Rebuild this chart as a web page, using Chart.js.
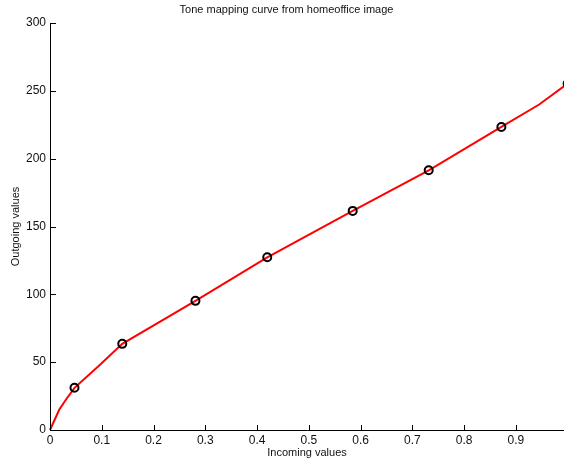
<!DOCTYPE html>
<html>
<head>
<meta charset="utf-8">
<script src="https://cdn.jsdelivr.net/npm/chart.js@4"></script>
<style>
  html, body { margin: 0; padding: 0; background: #fff; }
  #wrap { width: 564px; height: 462px; }
</style>
</head>
<body>
<div id="wrap"><canvas id="chart" width="564" height="462"></canvas></div>
<script>
const chartTitle = "Tone mapping curve from homeoffice image";
const xLabel = "Incoming values";
const yLabel = "Outgoing values";

const xTicks = [0, 0.1, 0.2, 0.3, 0.4, 0.5, 0.6, 0.7, 0.8, 0.9];
const yTicks = [0, 50, 100, 150, 200, 250, 300];

// red tone curve
const curveX = [0, 0.018, 0.031, 0.0473, 0.0956, 0.1396, 0.281, 0.4197, 0.5848, 0.7316, 0.872, 0.945, 1.0];
const curveY = [0, 15.1, 22.5, 31.1, 47.8, 63.5, 95.2, 127.3, 161.5, 191.4, 223.4, 239.9, 255.3];

// black circle markers
const markerX = [0.0473, 0.1396, 0.281, 0.4197, 0.5848, 0.7316, 0.872, 1.0];
const markerY = [31.1, 63.5, 95.2, 127.3, 161.5, 191.4, 223.4, 255.3];

const FONT = '"Liberation Sans", Arial, Helvetica, sans-serif';
const INK = '#111';

const toPoints = (xs, ys) => xs.map((x, i) => ({ x: x, y: ys[i] }));

// MATLAB style inward tick marks + title
const matlabAxes = {
  id: 'matlabAxes',
  afterDraw(chart) {
    const ctx = chart.ctx;
    const xs = chart.scales.x, ys = chart.scales.y;
    const area = chart.chartArea;
    ctx.save();
    ctx.strokeStyle = '#000';
    ctx.lineWidth = 1;
    ctx.beginPath();
    xTicks.forEach(v => {
      const px = Math.round(xs.getPixelForValue(v)) + 0.5;
      ctx.moveTo(px, Math.round(area.bottom));
      ctx.lineTo(px, Math.round(area.bottom) - 5);
    });
    yTicks.forEach(v => {
      const py = Math.round(ys.getPixelForValue(v)) + 0.5;
      ctx.moveTo(Math.round(area.left), py);
      ctx.lineTo(Math.round(area.left) + 6, py);
    });
    ctx.stroke();

    ctx.fillStyle = INK;
    ctx.font = '11px ' + FONT;
    ctx.textAlign = 'center';
    ctx.textBaseline = 'middle';
    ctx.fillText(chartTitle, 286.5, 10);
    ctx.restore();
  }
};

new Chart(document.getElementById('chart'), {
  type: 'scatter',
  data: {
    datasets: [
      {
        label: 'markers',
        data: toPoints(markerX, markerY),
        showLine: false,
        pointRadius: 4,
        pointBorderWidth: 2,
        pointBorderColor: '#000',
        pointBackgroundColor: 'rgba(0,0,0,0)',
        clip: false,
        order: 0
      },
      {
        label: 'curve',
        data: toPoints(curveX, curveY),
        showLine: true,
        borderColor: '#ff0000',
        borderWidth: 2,
        pointRadius: 0,
        tension: 0,
        clip: false,
        order: 1
      }
    ]
  },
  options: {
    responsive: false,
    animation: false,
    layout: { autoPadding: false, padding: { top: 23, left: 0, right: 0, bottom: 0 } },
    plugins: {
      legend: { display: false },
      tooltip: { enabled: false },
      title: { display: false }
    },
    scales: {
      x: {
        type: 'linear',
        position: 'bottom',
        min: 0,
        max: 0.993,
        afterBuildTicks: s => { s.ticks = xTicks.map(v => ({ value: v })); },
        afterFit: s => { s.height = 32; s.paddingLeft = 0; s.paddingRight = 0; },
        grid: { display: false, drawTicks: false },
        border: { display: true, color: '#000', width: 1 },
        ticks: {
          font: { family: FONT, size: 12 },
          color: INK,
          padding: 3,
          maxRotation: 0,
          autoSkip: false,
          callback: v => String(v)
        },
        title: {
          display: true,
          text: xLabel,
          font: { family: FONT, size: 11 },
          color: INK,
          padding: { top: 0, bottom: 2.4 }
        }
      },
      y: {
        type: 'linear',
        min: 0,
        max: 300,
        afterBuildTicks: s => { s.ticks = yTicks.map(v => ({ value: v })); },
        afterFit: s => { s.width = 50; },
        grid: { display: false, drawTicks: false },
        border: { display: true, color: '#000', width: 1 },
        ticks: {
          font: { family: FONT, size: 12 },
          color: INK,
          padding: 4,
          autoSkip: false,
          callback: v => String(v)
        },
        title: {
          display: true,
          text: yLabel,
          font: { family: FONT, size: 11 },
          color: INK,
          padding: { top: 9.4, bottom: 0 }
        }
      }
    }
  },
  plugins: [matlabAxes]
});
</script>
</body>
</html>
